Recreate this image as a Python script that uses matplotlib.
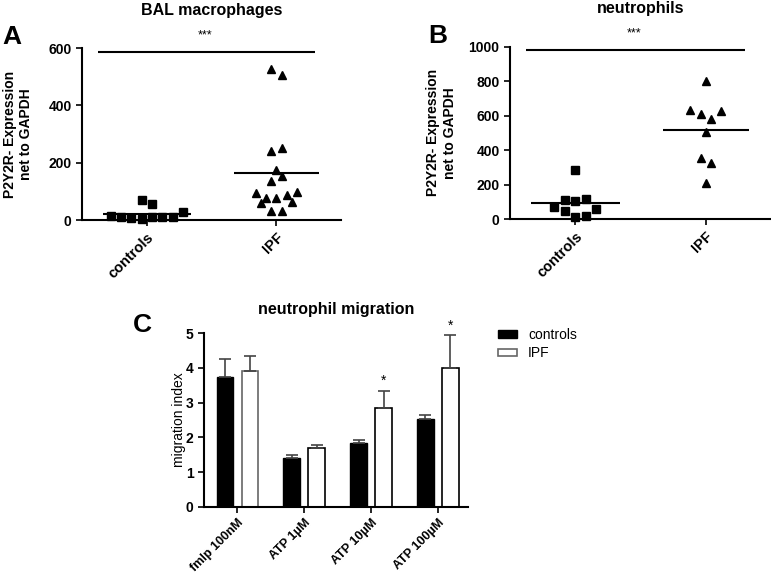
import numpy as np
from matplotlib import pyplot as plt

plt.rcParams['font.family'] = ['Liberation Sans', 'DejaVu Sans']

groups = ['controls', 'IPF']

# panel A: BAL macrophages (value, jitter step)
a_ctrl = [14, 9, 7, 70, 3, 56, 9, 9, 9, 28]
a_ctrl_pos = [-3.5, -2.5, -1.5, -0.5, -0.5, 0.5, 0.5, 1.5, 2.5, 3.5]
a_ipf = [527, 507, 242, 252, 175, 155, 135, 96, 76, 76, 87, 98, 58, 62, 33, 33]
a_ipf_pos = [-0.5, 0.5, -0.5, 0.5, 0, 0.5, -0.5, -2, -1, 0, 1, 2, -1.5, 1.5, -0.5, 0.5]

# panel B: neutrophils
b_ctrl = [284, 110, 103, 118, 68, 44, 56, 12, 19]
b_ctrl_pos = [0, -1, 0, 1, -2, -1, 2, 0, 1]
b_ipf = [803, 633, 609, 582, 629, 503, 356, 323, 207]
b_ipf_pos = [0, -1.5, -0.5, 0.5, 1.5, 0, -0.5, 0.5, 0]

# panel C: neutrophil migration
stimuli = ['fmlp 100nM', 'ATP 1µM', 'ATP 10µM', 'ATP 100µM']
mig_ctrl = [3.73, 1.41, 1.84, 2.54]
mig_ctrl_err = [0.53, 0.09, 0.08, 0.11]
mig_ipf = [3.90, 1.68, 2.85, 3.99]
mig_ipf_err = [0.44, 0.10, 0.49, 0.95]
stars = ['', '', '*', '*']

step = 0.08

fig = plt.figure(figsize=(7.71, 5.73), dpi=100)


def style(ax, xsize=10.5):
    ax.spines['right'].set_visible(False)
    ax.spines['top'].set_visible(False)
    for s in ['left', 'bottom']:
        ax.spines[s].set_linewidth(1.5)
    ax.tick_params(axis='both', width=1.2, length=4, labelsize=10)
    ax.tick_params(axis='x', labelsize=xsize)
    for lab in ax.get_yticklabels() + ax.get_xticklabels():
        lab.set_fontweight('bold')


def scatter_panel(ax, ctrl, ctrl_pos, ipf, ipf_pos, ymax, yticks, sig_y, title):
    ax.plot(0 + np.array(ctrl_pos) * step, ctrl, 's', color='black', ms=5.5, clip_on=False)
    ax.plot(1 + np.array(ipf_pos) * step, ipf, '^', color='black', ms=6, clip_on=False)
    ax.hlines(np.mean(ctrl), -0.34, 0.34, color='black', lw=1.5)
    ax.hlines(np.mean(ipf), 1 - 0.33, 1 + 0.33, color='black', lw=1.5)
    ax.set_xlim(-0.5, 1.5)
    ax.set_ylim(0, ymax)
    ax.set_yticks(yticks)
    ax.set_xticks([0, 1])
    ax.set_xticklabels(groups, rotation=45, ha='right', rotation_mode='anchor')
    ax.set_ylabel('P2Y2R- Expression\nnet to GAPDH', fontsize=10, fontweight='bold')
    ax.set_title(title, fontsize=11.5, fontweight='bold', pad=24)
    ax.hlines(sig_y, -0.38, 1.3, color='black', lw=1.5, clip_on=False)
    ax.text(0.45, sig_y + ymax * 0.06, '***', ha='center', va='bottom', fontsize=9)
    style(ax)


axA = fig.add_axes([0.1064, 0.616, 0.336, 0.300])
scatter_panel(axA, a_ctrl, a_ctrl_pos, a_ipf, a_ipf_pos, 600, [0, 200, 400, 600], 588,
              'BAL macrophages')
axA.yaxis.set_label_coords(-0.19, 0.5)
fig.text(0.003, 0.935, 'A', fontsize=19, fontweight='bold', va='center')

axB = fig.add_axes([0.6615, 0.6178, 0.3385, 0.3007])
scatter_panel(axB, b_ctrl, b_ctrl_pos, b_ipf, b_ipf_pos, 1000, [0, 200, 400, 600, 800, 1000],
              980, 'neutrophils')
axB.yaxis.set_label_coords(-0.205, 0.5)
fig.text(0.556, 0.937, 'B', fontsize=19, fontweight='bold', va='center')

axC = fig.add_axes([0.2646, 0.1157, 0.3424, 0.3026])
x = np.arange(len(stimuli))
w = 0.25
off = 0.1875
ekw = dict(ecolor='#444444', capsize=4, elinewidth=1.2, capthick=1.2)
axC.bar(x - off, mig_ctrl, w, color='black', edgecolor='black', label='controls',
        yerr=[np.zeros(4), mig_ctrl_err], error_kw=ekw)
axC.bar(x + off, mig_ipf, w, color='white', edgecolor=['#666666', 'black', 'black', 'black'],
        lw=1.2, label='IPF', yerr=[np.zeros(4), mig_ipf_err], error_kw=ekw)
for i, s in enumerate(stars):
    if s:
        axC.text(x[i] + off, mig_ipf[i] + mig_ipf_err[i] + 0.08, s, ha='center', va='bottom',
                 fontsize=10, clip_on=False)
axC.set_xlim(-0.5, 3.45)
axC.set_ylim(0, 5)
axC.set_xticks(x)
axC.set_xticklabels(stimuli, rotation=45, ha='right', rotation_mode='anchor')
axC.set_ylabel('migration index', fontsize=10)
axC.yaxis.set_label_coords(-0.07, 0.5)
axC.set_title('neutrophil migration', fontsize=11.5, fontweight='bold', pad=14)
style(axC, xsize=9)
fig.text(0.172, 0.433, 'C', fontsize=19, fontweight='bold', va='center')
axC.legend(loc='upper left', bbox_to_anchor=(1.065, 1.105), frameon=False, fontsize=10,
           handlelength=1.4, handleheight=0.5, handletextpad=0.8, labelspacing=0.35)

fig.savefig('out.png', dpi=100)
